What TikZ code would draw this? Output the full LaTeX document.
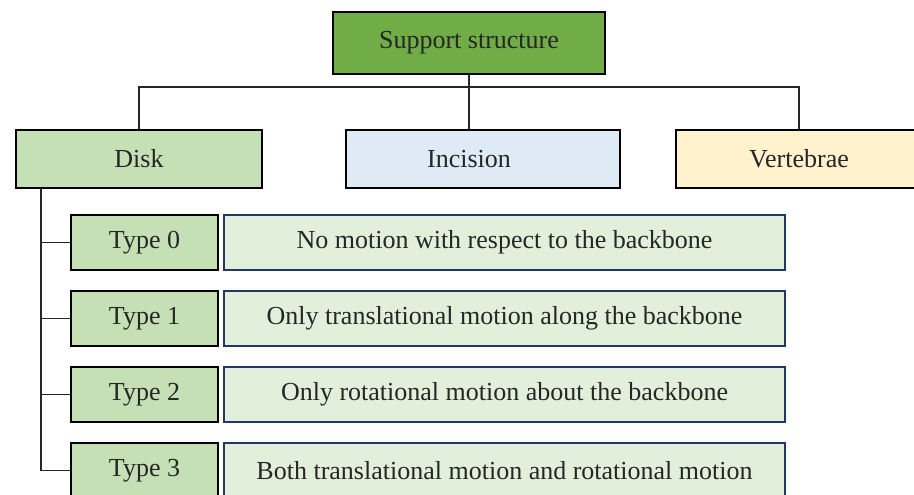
\documentclass[tikz,border=0pt]{standalone}
\usepackage{fontspec}
\setmainfont{Liberation Serif}
\usepackage{xcolor}
\usetikzlibrary{positioning}

\definecolor{topgreen}{RGB}{112,173,71}
\definecolor{midgreen}{RGB}{197,224,180}
\definecolor{palegreen}{RGB}{226,239,218}
\definecolor{paleblue}{RGB}{222,235,247}
\definecolor{paleyellow}{RGB}{255,242,204}
\definecolor{navyline}{RGB}{32,56,100}

\begin{document}
\begin{tikzpicture}[x=0.75pt,y=0.75pt,yscale=-1,xscale=1,
  box/.style={draw=black,line width=1.2pt,inner sep=0pt,font=\fontsize{19.5}{23}\selectfont,text=black!85},
  catbox/.style={box,minimum height=43.5pt},
  typebox/.style={box,fill=midgreen,minimum width=110.25pt,minimum height=41.25pt},
  descbox/.style={box,draw=navyline,fill=palegreen,minimum width=420.75pt,minimum height=41.25pt},
  link/.style={draw=black!85,line width=0.9pt}]
\clip (0,0) rectangle (914,494);
\useasboundingbox (0,0) rectangle (914,494);

% top level
\node [box,fill=topgreen,minimum width=204pt,minimum height=46.5pt] (top) at (469,43) {Support structure};

% second level
\node [catbox,fill=midgreen,minimum width=184.5pt] (disk) at (139,159) {Disk};
\node [catbox,fill=paleblue,minimum width=205.5pt] (inc) at (483,159) {Incision\hspace*{21pt}};
\node [catbox,fill=paleyellow,minimum width=184.5pt] (vert) at (799,159) {Vertebrae};

% disk types
\node [typebox] (t0) at (144.5,242.5) {Type 0};
\node [typebox] (t1) at (144.5,318.5) {Type 1};
\node [typebox] (t2) at (144.5,394.5) {Type 2};
\node [typebox] (t3) at (144.5,470.5) {Type 3};

\node [descbox] (d0) at (504.5,242.5) {No motion with respect to the backbone};
\node [descbox] (d1) at (504.5,318.5) {Only translational motion along the backbone};
\node [descbox] (d2) at (504.5,394.5) {Only rotational motion about the backbone};
\node [descbox] (d3) at (504.5,470.5) {Both translational motion and rotational motion};

% connectors
\coordinate (jn) at (469,87);
\coordinate (trunk) at (41,188);
\path [link] (disk.north) |- (jn) -| (vert.north);
\path [link] (top.south) -- (top.south |- inc.north);
\path [link] (trunk) |- (t3.west);
\foreach \t in {t0,t1,t2}
  \path [link] (\t.west) -- (\t.west -| trunk);

\end{tikzpicture}
\end{document}
